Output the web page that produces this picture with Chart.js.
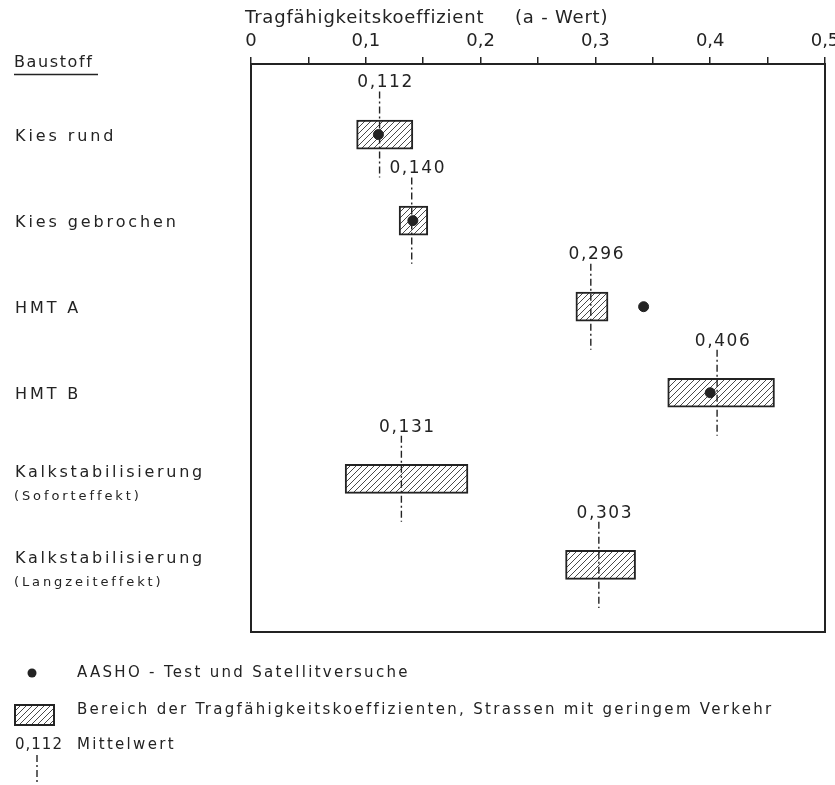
<!DOCTYPE html>
<html lang="de">
<head>
<meta charset="utf-8">
<title>Tragfähigkeitskoeffizient (a-Wert)</title>
<script src="https://cdn.jsdelivr.net/npm/chart.js@4.4.1/dist/chart.umd.min.js"></script>
<style>
  html, body { margin: 0; padding: 0; background: #fff; }
  #wrap { width: 835px; height: 785px; }
</style>
</head>
<body>
<div id="wrap"><canvas id="aWertChart" width="835" height="785"></canvas></div>
<script>
// Baustoffe (rows, top to bottom)
const materials = ['Kies rund', 'Kies gebrochen', 'HMT A', 'HMT B', 'Kalkstabilisierung', 'Kalkstabilisierung'];
const subLabels = ['', '', '', '', '(Soforteffekt)', '(Langzeiteffekt)'];
// Bereich der Tragfähigkeitskoeffizienten (hatched boxes)
const rangeLow  = [0.092, 0.129, 0.283, 0.363, 0.082, 0.274];
const rangeHigh = [0.141, 0.154, 0.311, 0.456, 0.189, 0.335];
// Mittelwert
const meanValues = [0.112, 0.140, 0.296, 0.406, 0.131, 0.303];
// AASHO-Test und Satellitversuche
const aashoValues = [0.111, 0.141, 0.342, 0.400, null, null];
const xTickLabels = [0, 0.1, 0.2, 0.3, 0.4, 0.5];

const ink = '#232323';
const font = '"DejaVu Sans", sans-serif';

function fmt(v, digits) {
  return v === 0 ? '0' : v.toFixed(digits).replace('.', ',');
}

function hatchPattern(ctx) {
  const c = document.createElement('canvas');
  c.width = 6; c.height = 6;
  const p = c.getContext('2d');
  p.fillStyle = '#fff';
  p.fillRect(0, 0, 6, 6);
  p.strokeStyle = '#4a4a4a';
  p.lineWidth = 1;
  p.beginPath();
  p.moveTo(-1, 7); p.lineTo(7, -1);
  p.moveTo(-1, 1); p.lineTo(1, -1);
  p.moveTo(5, 7); p.lineTo(7, 5);
  p.stroke();
  return ctx.createPattern(c, 'repeat');
}

function text(ctx, str, x, y, size, spacing, align) {
  ctx.font = size + 'px ' + font;
  ctx.letterSpacing = spacing + 'px';
  ctx.textAlign = align || 'left';
  ctx.textBaseline = 'middle';
  ctx.fillText(str, x, y);
}

const canvas = document.getElementById('aWertChart');
const ctx = canvas.getContext('2d');
const hatch = hatchPattern(ctx);

// frame, mean lines, row labels and legend
const annotations = {
  id: 'annotations',
  afterDatasetsDraw(chart) {
    const { ctx, chartArea: a, scales: { x, y } } = chart;
    ctx.save();
    ctx.strokeStyle = ink;
    ctx.fillStyle = ink;

    ctx.lineWidth = 2;
    ctx.strokeRect(a.left, a.top, a.right - a.left, a.bottom - a.top);

    // axis title
    text(ctx, 'Tragfähigkeitskoeffizient', 245, 18, 18, 0.8);
    text(ctx, '(a - Wert)', 515, 18, 18, 0.8);

    meanValues.forEach((m, i) => {
      const px = x.getPixelForValue(m);
      ctx.setLineDash([7, 3, 2, 3]);
      ctx.lineWidth = 1.4;
      ctx.beginPath();
      ctx.moveTo(px, y.getPixelForValue(i - 0.5));
      ctx.lineTo(px, y.getPixelForValue(i + 0.5));
      ctx.stroke();
      ctx.setLineDash([]);
      text(ctx, fmt(m, 3), px + 6, y.getPixelForValue(i - 0.6), 17, 1.6, 'center');
    });

    // Baustoff column
    text(ctx, 'Baustoff', 14, 63, 16, 1.6);
    ctx.lineWidth = 1.5;
    ctx.beginPath(); ctx.moveTo(14, 74.5); ctx.lineTo(98, 74.5); ctx.stroke();
    materials.forEach((name, i) => {
      const py = y.getPixelForValue(i);
      if (subLabels[i]) {
        text(ctx, name, 15, py - 6, 16, 2.7);
        text(ctx, subLabels[i], 14, py + 18, 13, 2.9);
      } else {
        text(ctx, name, 15, py + 2, 16, 2.9);
      }
    });

    // legend
    ctx.beginPath(); ctx.arc(32, 673, 4.5, 0, Math.PI * 2); ctx.fill();
    text(ctx, 'AASHO - Test und Satellitversuche', 77, 673, 15, 2.3);
    ctx.fillStyle = hatch;
    ctx.fillRect(15, 705, 39, 20);
    ctx.lineWidth = 2;
    ctx.strokeRect(15, 705, 39, 20);
    ctx.fillStyle = ink;
    text(ctx, 'Bereich der Tragfähigkeitskoeffizienten, Strassen mit geringem Verkehr', 77, 710, 15, 2.3);
    text(ctx, fmt(meanValues[0], 3), 15, 745, 15, 1);
    text(ctx, 'Mittelwert', 77, 745, 15, 2.3);
    ctx.setLineDash([7, 3, 2, 3]);
    ctx.lineWidth = 1.4;
    ctx.beginPath(); ctx.moveTo(37, 755); ctx.lineTo(37, 784); ctx.stroke();
    ctx.restore();
  }
};

new Chart(ctx, {
  type: 'scatter',
  data: {
    datasets: [
      {
        type: 'bar',
        indexAxis: 'y',
        label: 'Bereich',
        data: materials.map((_, i) => ({ x: [rangeLow[i], rangeHigh[i]], y: i })),
        backgroundColor: hatch,
        borderColor: ink,
        borderWidth: 2,
        borderSkipped: false,
        barThickness: 29,
        order: 2
      },
      {
        label: 'AASHO',
        data: aashoValues.map((v, i) => ({ x: v, y: i })).filter(p => p.x !== null),
        pointRadius: 5,
        pointBackgroundColor: ink,
        pointBorderColor: ink,
        order: 1
      }
    ]
  },
  options: {
    responsive: false,
    animation: false,
    layout: { padding: { left: 251, right: 10, top: 0, bottom: 153 } },
    plugins: { legend: { display: false }, tooltip: { enabled: false } },
    scales: {
      x: {
        type: 'linear',
        position: 'top',
        min: 0,
        max: 0.5,
        afterFit(s) { s.height = 64; s.paddingLeft = 0; s.paddingRight = 0; },
        ticks: {
          stepSize: 0.05,
          autoSkip: false,
          maxRotation: 0,
          padding: 5,
          color: ink,
          font: { family: font, size: 18 },
          callback: v => xTickLabels.some(t => Math.abs(t - v) < 1e-6) ? fmt(v, 1) : ''
        },
        grid: { drawOnChartArea: false, tickLength: 7, color: ink, lineWidth: 1.5 },
        border: { display: true, color: ink, width: 2 }
      },
      y: {
        type: 'linear',
        display: false,
        reverse: true,
        offset: false,
        min: -0.82,
        max: 5.78
      }
    }
  },
  plugins: [annotations]
});
</script>
</body>
</html>
